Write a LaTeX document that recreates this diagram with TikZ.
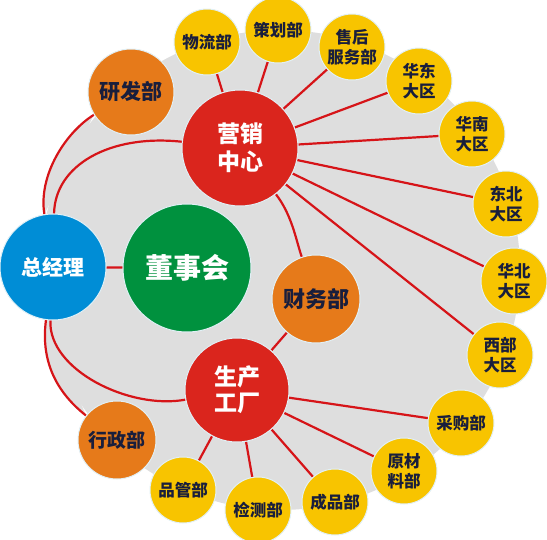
\documentclass[tikz,border=0pt]{standalone}
\usepackage{fontspec}
\newfontfamily\cjk{Noto Sans CJK SC}
\usepackage{tikz}
\usetikzlibrary{backgrounds}
\definecolor{HubBlue}{RGB}{0,141,214}
\definecolor{BoardGreen}{RGB}{0,145,62}
\definecolor{CoreRed}{RGB}{218,37,29}
\definecolor{DeptOrange}{RGB}{230,122,26}
\definecolor{UnitYellow}{RGB}{248,196,0}
\definecolor{LinkRed}{RGB}{214,20,24}
\definecolor{FieldGrey}{RGB}{222,222,222}
\definecolor{InkNavy}{RGB}{25,30,60}
\definecolor{RimWhite}{RGB}{225,240,246}
\tikzset{
  orb/.style={circle,inner sep=0pt,align=center,draw=RimWhite,line width=1pt},
  hub/.style={orb,text=white,font=\cjk\bfseries},
  dept/.style={orb,fill=DeptOrange,minimum size=#1,text=InkNavy,font=\cjk\bfseries},
  unit/.style={orb,fill=UnitYellow,minimum size=66pt,text=InkNavy,
    font=\cjk\bfseries\fontsize{16.5}{20}\selectfont},
  link/.style={LinkRed,line width=2.2pt}
}
\begin{document}
\begin{tikzpicture}[x=1pt,y=-1pt]
  \useasboundingbox (0,0) rectangle (547,539);

  % top management
  \node[hub,fill=HubBlue,minimum size=106pt,font=\cjk\bfseries\fontsize{21}{24}\selectfont] (gm) at (53,267) {总经理};
  \node[hub,fill=BoardGreen,minimum size=128pt,font=\cjk\bfseries\fontsize{28}{30}\selectfont] (board) at (187,268) {董事会};
  \node[hub,fill=CoreRed,minimum size=116pt,font=\cjk\bfseries\fontsize{23}{28}\selectfont] (sales) at (240,148) {营销\\中心};
  \node[hub,fill=CoreRed,minimum size=104pt,font=\cjk\bfseries\fontsize{23}{26}\selectfont] (plant) at (237,390) {生产\\工厂};

  % departments
  \node[dept=86pt,font=\cjk\bfseries\fontsize{21}{24}\selectfont] (rnd) at (131,92) {研发部};
  \node[dept=88pt,font=\cjk\bfseries\fontsize{22}{24}\selectfont] (finance) at (316,299) {财务部};
  \node[dept=78pt,font=\cjk\bfseries\fontsize{19}{22}\selectfont] (admin) at (117,440) {行政部};

  % sales units
  \node[unit] (logistics) at (207,42) {物流部};
  \node[unit] (planning) at (278,30) {策划部};
  \node[unit] (service) at (352,47) {售后\\服务部};
  \node[unit] (east) at (419,81) {华东\\大区};
  \node[unit] (south) at (472,134) {华南\\大区};
  \node[unit] (northeast) at (506,204) {东北\\大区};
  \node[unit] (north) at (514,281) {华北\\大区};
  \node[unit] (west) at (500,355) {西部\\大区};

  % plant units
  \node[unit] (purchase) at (461,423) {采购部};
  \node[unit] (material) at (404,471) {原材\\料部};
  \node[unit] (product) at (335,502) {成品部};
  \node[unit] (testing) at (258,510) {检测部};
  \node[unit] (quality) at (183,490) {品管部};

  \begin{pgfonlayer}{background}
    % grey field, widened on the left up to the outer arcs
    \fill[FieldGrey] (280,270) circle (240pt);
    \fill[FieldGrey] (gm) .. controls (38,175) and (66,132) .. (rnd) -- (board.center) -- cycle;
    \fill[FieldGrey] (gm) .. controls (40,365) and (60,395) .. (admin) -- (board.center) -- cycle;
    \draw[link] (gm) -- (board);
    \draw[link] (gm) .. controls (38,175) and (66,132) .. (rnd);
    \draw[link] (gm) .. controls (55,165) and (110,134) .. (sales);
    \draw[link] (gm) .. controls (48,370) and (130,410) .. (plant);
    \draw[link] (gm) .. controls (40,365) and (60,395) .. (admin);
    \draw[link] (sales) .. controls (292,215) and (296,240) .. (finance);
    \draw[link] (plant) -- (finance);
    \foreach \u in {logistics,planning,service,east,south,northeast,north,west}
      \draw[link] (sales) -- (\u);
    \foreach \u in {purchase,material,product,testing,quality}
      \draw[link] (plant) -- (\u);
  \end{pgfonlayer}
\end{tikzpicture}
\end{document}
